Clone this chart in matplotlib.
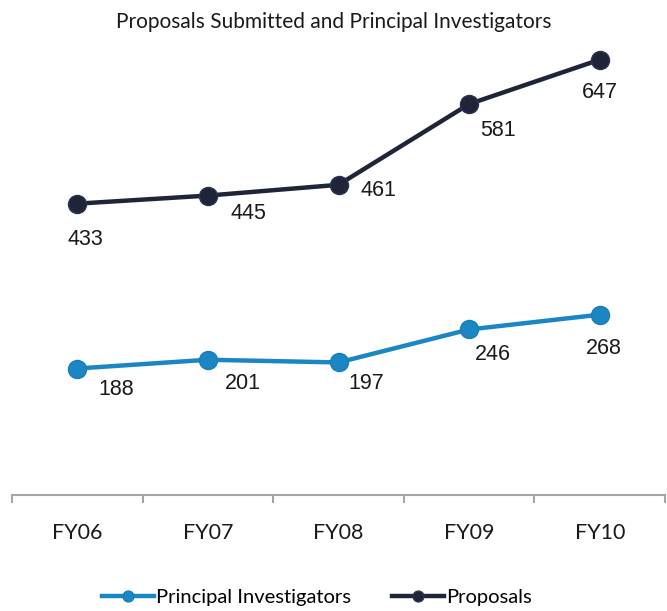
import matplotlib.pyplot as plt
import numpy as np

years = ["FY06", "FY07", "FY08", "FY09", "FY10"]
proposals = [433, 445, 461, 581, 647]
investigators = [188, 201, 197, 246, 268]

# label offsets in points (dx, dy) relative to each marker
prop_offsets = [(6, -26), (29, -13), (29, -4), (21, -19), (0, -24)]
pi_offsets = [(28, -15), (25, -17), (20, -15), (17, -18), (3, -24)]

navy = "#1f2439"
blue = "#1a87c4"
axis_grey = "#a6a6a6"

fig = plt.figure(figsize=(6.67, 6.11), dpi=100)
ax = fig.add_axes([12 / 667, 1 - 495 / 611, 653 / 667, 471 / 611])

x = np.arange(len(years))
ax.plot(x, proposals, color=navy, lw=3.2, marker="o", ms=13,
        markeredgecolor="#2a3550", markeredgewidth=1, label="Proposals", zorder=3)
ax.plot(x, investigators, color=blue, lw=3.2, marker="o", ms=13,
        markeredgecolor="#1a7db5", markeredgewidth=1, label="Principal Investigators", zorder=3)

for xi, v, off in zip(x, proposals, prop_offsets):
    ax.annotate(str(v), (xi, v), xytext=off, textcoords="offset points",
                ha="center", va="center", fontsize=15.5, family="Liberation Sans", color="#1a1a1a")
for xi, v, off in zip(x, investigators, pi_offsets):
    ax.annotate(str(v), (xi, v), xytext=off, textcoords="offset points",
                ha="center", va="center", fontsize=15.5, family="Liberation Sans", color="#1a1a1a")

ax.set_xlim(-0.5, len(years) - 0.5)
ax.set_ylim(0, 700)
ax.set_yticks([])
for side in ["top", "right", "left"]:
    ax.spines[side].set_visible(False)
ax.spines["bottom"].set_color(axis_grey)
ax.spines["bottom"].set_linewidth(1.5)

# ticks between categories, labels at centres
ax.set_xticks(np.arange(-0.5, len(years), 1.0))
ax.set_xticklabels([])
ax.tick_params(axis="x", which="major", length=6, width=1.5, color=axis_grey, direction="out")
ax.set_xticks(x, minor=True)
ax.set_xticklabels(years, minor=True, fontsize=15.5, family="Lato", color="#1a1a1a")
ax.tick_params(axis="x", which="minor", length=0, pad=20)

fig.text(0.5, 1 - 22 / 611, "Proposals Submitted and Principal Investigators",
         ha="center", va="center", fontsize=15, family="Lato", color="#1a1a1a")

handles, labels = ax.get_legend_handles_labels()
fig.legend(handles[::-1], labels[::-1], loc="center", bbox_to_anchor=(0.475, 1 - 597 / 611),
           ncol=2, frameon=False, prop={"family": "Lato", "size": 14.5},
           handlelength=2.6, handletextpad=0.1, columnspacing=2.0, markerscale=0.6)

fig.savefig("out.png", dpi=100)
